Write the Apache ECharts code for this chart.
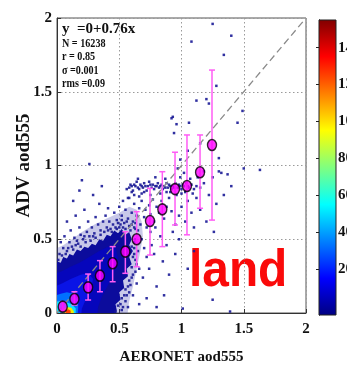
<!DOCTYPE html>
<html><head><meta charset="utf-8">
<script src="https://cdn.jsdelivr.net/npm/echarts@6/dist/echarts.min.js"></script>
<style>html,body{margin:0;padding:0;background:#fff}#c{width:347px;height:368px}</style>
</head><body><div id="c"></div>
<script>
// ---------- data ----------
const axisTicks = [0, 0.5, 1, 1.5, 2];
const colorbarTicks = [20, 40, 60, 80, 100, 120, 140];
const colorbarRange = [-5, 155];

// binned means (AERONET x, ADV y) with +/- 1 std range
const meanX  = [0.046,0.14,0.25,0.345,0.447,0.549,0.64,0.747,0.846,0.948,1.044,1.149,1.245];
const meanY  = [0.043,0.095,0.174,0.253,0.337,0.416,0.50,0.624,0.703,0.84,0.861,0.954,1.139];
const barLow = [0.01,0.054,0.088,0.144,0.212,0.269,0.314,0.393,0.45,0.597,0.53,0.71,0.63];
const barHigh= [0.077,0.144,0.264,0.355,0.45,0.551,0.687,0.845,0.958,1.09,1.207,1.207,1.647];

const oneToOne = [[0,0],[1.98,1.98]];

// density regions (outer -> inner), vertices in data units
const densityHalo = [[-0.05,-0.05],[-0.05,0.42],[0.05,0.46],[0.12,0.5],[0.2,0.55],[0.3,0.6],[0.4,0.64],[0.5,0.68],[0.58,0.72],[0.64,0.7],[0.68,0.62],[0.69,0.52],[0.67,0.42],[0.64,0.3],[0.61,0.18],[0.58,0.08],[0.56,-0.05]];
const densityLow = [[-0.05,-0.05],[-0.05,0.32],[0.0,0.35],[0.03,0.34],[0.05,0.38],[0.08,0.37],[0.1,0.40],[0.13,0.39],[0.16,0.43],[0.19,0.42],[0.22,0.45],[0.25,0.44],[0.28,0.47],[0.31,0.46],[0.34,0.50],[0.37,0.49],[0.40,0.53],[0.43,0.52],[0.46,0.56],[0.49,0.54],[0.52,0.57],[0.55,0.53],[0.58,0.55],[0.60,0.50],[0.58,0.46],[0.61,0.42],[0.58,0.38],[0.60,0.33],[0.56,0.30],[0.57,0.25],[0.53,0.22],[0.54,0.17],[0.50,0.14],[0.51,0.09],[0.47,0.06],[0.48,0.02],[0.46,-0.05]];
const densityMid = [[-0.05,-0.05],[-0.05,0.26],[0.03,0.28],[0.1,0.31],[0.18,0.34],[0.26,0.38],[0.34,0.42],[0.41,0.45],[0.47,0.44],[0.49,0.37],[0.46,0.28],[0.41,0.19],[0.36,0.11],[0.33,0.04],[0.32,-0.05]];
const densityBlue = [[-0.05,-0.05],[-0.05,0.17],[0.04,0.2],[0.11,0.23],[0.19,0.26],[0.25,0.27],[0.29,0.23],[0.27,0.15],[0.23,0.09],[0.2,0.03],[0.19,-0.05]];
const densityLight = [[-0.05,-0.05],[-0.05,0.11],[0.03,0.13],[0.08,0.14],[0.13,0.13],[0.17,0.09],[0.17,0.03],[0.16,-0.05]];
const densityCyan = [[-0.05,-0.05],[-0.05,0.07],[0.02,0.08],[0.07,0.075],[0.12,0.06],[0.15,0.03],[0.15,-0.05]];
const densityYellow = [[0.05,-0.05],[0.05,0.025],[0.08,0.04],[0.115,0.035],[0.135,0.012],[0.135,-0.05]];
const densityRed = [[0.07,-0.05],[0.07,0.018],[0.09,0.026],[0.11,0.016],[0.11,-0.05]];

// sparse individual collocations
const sparsePoints = [
[0.56,0.84],[0.59,0.87],[0.61,0.83],[0.63,0.86],[0.64,0.89],[0.66,0.84],[0.67,0.87],[0.69,0.85],[0.70,0.88],[0.72,0.83],[0.73,0.86],[0.74,0.89],[0.76,0.85],[0.77,0.87],[0.78,0.84],[0.80,0.86],[0.81,0.88],[0.82,0.85],[0.84,0.87],[0.85,0.84],[0.86,0.86],[0.88,0.88],[0.89,0.85],[0.90,0.87],[0.92,0.84],[0.93,0.86],[0.95,0.88],[0.97,0.85],[0.98,0.87],[1.00,0.84],[1.02,0.86],[1.04,0.88],[1.06,0.85],[1.08,0.87],[1.10,0.84],[1.12,0.86],[1.15,0.85],[0.62,0.80],[0.68,0.81],[0.75,0.80],[0.83,0.81],[0.91,0.82],[0.96,0.80],[1.03,0.82],[1.09,0.81],[0.65,0.91],[0.79,0.92],[0.87,0.91],[0.99,0.92],[1.07,0.91],
[0.58,0.85],[0.60,0.86],[0.62,0.87],[0.65,0.85],[0.68,0.86],[0.71,0.86],[0.75,0.87],[0.79,0.86],[0.83,0.86],[0.87,0.85],[0.91,0.86],[0.94,0.85],[0.99,0.86],[1.01,0.87],[1.05,0.86],[0.60,0.82],[0.70,0.82],[0.88,0.82],[1.00,0.81],[0.57,0.78],[0.66,0.79],
[0.45,0.60],[0.48,0.63],[0.50,0.58],[0.52,0.66],[0.54,0.61],[0.55,0.70],[0.57,0.64],[0.58,0.59],[0.60,0.68],[0.61,0.62],[0.62,0.74],[0.63,0.57],[0.64,0.66],[0.66,0.71],[0.67,0.60],[0.68,0.76],[0.70,0.65],[0.71,0.70],[0.72,0.58],[0.74,0.73],[0.75,0.67],[0.77,0.77],[0.78,0.62],[0.80,0.72],[0.82,0.68],[0.84,0.76],[0.86,0.64],[0.88,0.72],[0.90,0.78],[0.92,0.69],[0.50,0.72],[0.46,0.68],[0.53,0.76],[0.58,0.78],[0.42,0.62],[0.40,0.58],[0.44,0.55],
[0.47,0.58],[0.49,0.61],[0.51,0.60],[0.53,0.58],[0.55,0.57],[0.56,0.62],[0.59,0.56],[0.60,0.60],[0.62,0.58],[0.63,0.61],[0.65,0.56],[0.52,0.63],[0.48,0.57],[0.43,0.57],[0.38,0.55],[0.41,0.56],
[0.02,0.40],[0.05,0.44],[0.08,0.42],[0.10,0.48],[0.12,0.45],[0.14,0.51],[0.17,0.47],[0.19,0.53],[0.21,0.50],[0.24,0.55],[0.26,0.52],[0.28,0.58],[0.30,0.54],[0.33,0.60],[0.35,0.56],[0.37,0.62],[0.39,0.66],[0.31,0.65],[0.25,0.62],[0.18,0.58],[0.11,0.56],[0.06,0.52],[0.03,0.48],[0.15,0.66],[0.22,0.70],[0.08,0.62],[0.20,0.90],[0.18,0.83],[0.26,1.01],[0.13,0.76],[0.34,0.74],[0.29,0.80],[0.41,0.71],[0.36,0.86],
[0.01,0.36],[0.04,0.39],[0.07,0.40],[0.09,0.44],[0.13,0.43],[0.15,0.46],[0.19,0.45],[0.23,0.48],[0.27,0.49],[0.31,0.51],[0.35,0.53],[0.16,0.49],[0.22,0.52],[0.29,0.52],
[0.62,0.48],[0.65,0.42],[0.63,0.36],[0.66,0.30],[0.61,0.26],[0.64,0.20],[0.58,0.14],[0.61,0.12],[0.55,0.08],[0.57,0.04],[0.52,0.02],[0.68,0.50],[0.70,0.44],[0.72,0.38],[0.69,0.24],[0.74,0.30],[0.76,0.46],[0.78,0.40],[0.80,0.18],[0.80,0.04],[0.83,0.52],[0.85,0.35],[0.88,0.46],[0.90,0.26],[0.93,0.55],[0.95,0.40],[0.98,0.50],[1.01,0.03],[1.05,0.30],[1.10,0.42],[0.72,0.10],[0.66,0.06],[0.86,0.12],[1.25,0.09],[1.39,0.01],[0.75,0.55],[0.79,0.58],
[0.60,0.45],[0.61,0.38],[0.60,0.31],[0.58,0.22],[0.55,0.16],[0.52,0.10],[0.49,0.05],[0.47,0.01],[0.63,0.50],[0.62,0.44],[0.64,0.33],[0.59,0.19],[0.56,0.12],[0.62,0.40],[0.63,0.28],[0.60,0.24],[0.57,0.18],[0.54,0.12],[0.51,0.06],[0.53,0.04],
[0.95,0.60],[0.98,0.66],[1.00,0.72],[1.03,0.62],[1.05,0.76],[1.08,0.68],[1.10,0.58],[1.12,0.78],[1.15,0.70],[1.18,0.88],[1.20,0.62],[1.22,0.80],[1.25,0.92],[1.28,0.74],[1.30,0.96],[1.32,0.95],[1.34,0.80],[1.37,0.94],[1.40,0.86],[1.18,0.96],[1.13,0.92],[1.63,0.97],[1.50,0.98],[1.26,0.55],[1.02,0.95],[0.97,0.98],
[0.93,1.33],[0.96,1.28],[1.06,1.29],[0.94,1.22],[1.12,1.44],[1.20,1.45],[1.22,1.42],[1.28,1.54],[1.45,1.29],[1.49,1.37],[1.25,1.96],[1.40,1.88],[1.34,1.75],[1.08,1.84],[0.92,1.32],[1.05,1.10],[1.15,1.15],[1.30,1.05],[0.99,1.04]
];

const statLines = ['N = 16238', 'r = 0.85', '\u03c3 =0.001', 'rms =0.09'];
const fitLabel = 'y  =0+0.76x';

// ---------- styles ----------
const densityRegions = [densityHalo, densityLow, densityMid, densityBlue, densityLight, densityCyan, densityYellow, densityRed];
const densityColors = ['#3a3ab0', '#0c0c9c', '#0606bc', '#0a14e6', '#0070ff', '#10e0ff', '#f0f000', '#ff4000'];
const densityOpacity = [0.28, 1, 1, 1, 1, 1, 1, 1];
const serif = '"Liberation Serif","Times New Roman",serif';

const chart = echarts.init(document.getElementById('c'));

const statGraphics = statLines.map((t, i) => ({
  type: 'text', x: 62, y: 37 + i * 13.5, scaleX: 0.78,
  style: { text: t, font: 'bold 13px ' + serif, fill: '#111' }
}));

chart.setOption({
  animation: false,
  grid: [
    { left: 57, top: 18, width: 249, height: 295, show: true, borderColor: '#555', borderWidth: 1, outerBoundsMode: 'none' },
    { left: 319, top: 20, width: 17, height: 295, outerBoundsMode: 'none' }
  ],
  xAxis: [
    { gridIndex: 0, type: 'value', min: 0, max: 2, interval: 0.5,
      name: 'AERONET aod555', nameLocation: 'middle', nameGap: 37, nameMoveOverlap: false,
      nameTextStyle: { fontFamily: serif, fontWeight: 'bold', fontSize: 15, color: '#111' },
      axisLine: { lineStyle: { color: '#333' } },
      axisTick: { inside: true, length: 4, lineStyle: { color: '#333' } },
      axisLabel: { margin: 9, fontFamily: serif, fontWeight: 'bold', fontSize: 15, color: '#111' },
      splitLine: { show: true, lineStyle: { color: '#9a9a9a', type: [1.5, 2.5] } } },
    { gridIndex: 1, type: 'value', min: 0, max: 1, show: false }
  ],
  yAxis: [
    { gridIndex: 0, type: 'value', min: 0, max: 2, interval: 0.5,
      name: 'ADV aod555', nameLocation: 'middle', nameGap: 23, nameRotate: 90, nameMoveOverlap: false,
      nameTextStyle: { fontFamily: serif, fontWeight: 'bold', fontSize: 19, color: '#111' },
      axisLine: { lineStyle: { color: '#333' } },
      axisTick: { inside: true, length: 4, lineStyle: { color: '#333' } },
      axisLabel: { margin: 5, fontFamily: serif, fontWeight: 'bold', fontSize: 15, color: '#111' },
      splitLine: { show: true, lineStyle: { color: '#9a9a9a', type: [1.5, 2.5] } } },
    { gridIndex: 1, type: 'value', position: 'right', min: colorbarRange[0], max: colorbarRange[1],
      axisLine: { show: true, lineStyle: { color: '#222' } },
      axisTick: { show: true, inside: true, length: 3, customValues: colorbarTicks, lineStyle: { color: '#222' } },
      axisLabel: { show: true, margin: 2, customValues: colorbarTicks, hideOverlap: false, fontFamily: serif, fontWeight: 'bold', fontSize: 15, color: '#111' },
      splitLine: { show: false } },
    { gridIndex: 1, type: 'value', position: 'left', min: colorbarRange[0], max: colorbarRange[1],
      axisLine: { show: true, lineStyle: { color: '#222' } },
      axisTick: { show: true, inside: true, length: 3, customValues: colorbarTicks, lineStyle: { color: '#222' } },
      axisLabel: { show: false }, splitLine: { show: false } }
  ],
  graphic: [
    { type: 'text', x: 62, y: 22, style: { text: fitLabel, font: 'bold 15px ' + serif, fill: '#111' } },
    ...statGraphics,
    { type: 'text', x: 189, y: 272, scaleX: 0.92,
      style: { text: 'land', font: 'bold 52px "Liberation Sans", Arial, sans-serif', fill: '#fa0a0a', verticalAlign: 'middle' } }
  ],
  series: [
    { type: 'custom', xAxisIndex: 0, yAxisIndex: 0, clip: true, silent: true, z: 1,
      data: densityRegions.map((r, i) => [r[1][0], r[1][1], i]),
      renderItem: function (params, api) {
        const idx = params.dataIndex;
        const pts = densityRegions[idx].map(p => api.coord(p));
        return { type: 'polygon', shape: { points: pts }, style: { fill: densityColors[idx], opacity: densityOpacity[idx] } };
      } },
    { type: 'scatter', xAxisIndex: 0, yAxisIndex: 0, data: sparsePoints, symbol: 'rect', symbolSize: 2.5,
      itemStyle: { color: '#1a1a96', opacity: 0.9 }, silent: true, z: 2 },
    { type: 'line', xAxisIndex: 0, yAxisIndex: 0, data: oneToOne, symbol: 'none', silent: true, z: 3,
      lineStyle: { color: '#8a8a8a', width: 1.3, type: [7, 4] } },
    { type: 'custom', xAxisIndex: 0, yAxisIndex: 0, silent: true, z: 4,
      data: meanX.map((x, i) => [x, barLow[i], barHigh[i]]),
      renderItem: function (params, api) {
        const lo = api.coord([api.value(0), api.value(1)]);
        const hi = api.coord([api.value(0), api.value(2)]);
        const w = 3;
        const st = { stroke: '#ff5cf5', lineWidth: 1.5 };
        return { type: 'group', children: [
          { type: 'line', shape: { x1: lo[0], y1: lo[1], x2: hi[0], y2: hi[1] }, style: st },
          { type: 'line', shape: { x1: lo[0] - w, y1: lo[1], x2: lo[0] + w, y2: lo[1] }, style: st },
          { type: 'line', shape: { x1: hi[0] - w, y1: hi[1], x2: hi[0] + w, y2: hi[1] }, style: st }
        ] };
      } },
    { type: 'scatter', xAxisIndex: 0, yAxisIndex: 0, data: meanX.map((x, i) => [x, meanY[i]]),
      symbol: 'circle', symbolSize: [9, 11], silent: true, z: 5,
      itemStyle: { color: '#ff00ff', borderColor: '#000', borderWidth: 1.5 } },
    { type: 'custom', xAxisIndex: 1, yAxisIndex: 1, silent: true, z: 1,
      data: [[0, colorbarRange[0], colorbarRange[1]]],
      renderItem: function (params, api) {
        const a = api.coord([0, api.value(2)]);
        const b = api.coord([1, api.value(1)]);
        return { type: 'rect', shape: { x: a[0], y: a[1], width: b[0] - a[0], height: b[1] - a[1] },
          style: { stroke: '#222', lineWidth: 1,
            fill: new echarts.graphic.LinearGradient(0, 0, 0, 1, [
              { offset: 0, color: '#800000' }, { offset: 0.125, color: '#ff0000' },
              { offset: 0.375, color: '#ffff00' }, { offset: 0.625, color: '#00ffff' },
              { offset: 0.875, color: '#0000ff' }, { offset: 1, color: '#000080' }]) } };
      } }
  ]
});
</script></body></html>
